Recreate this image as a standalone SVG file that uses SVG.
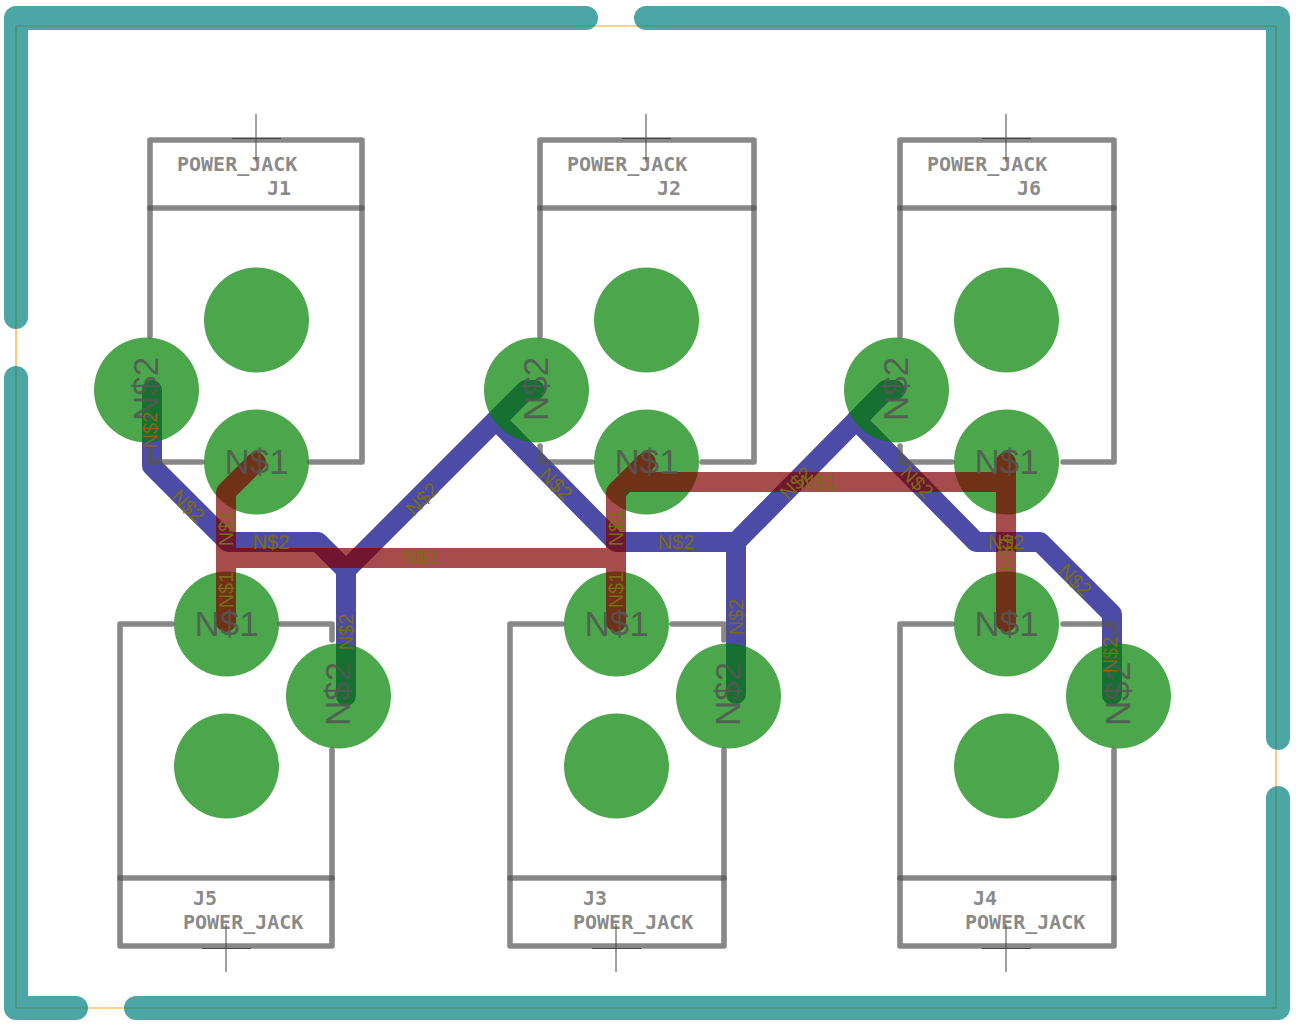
<svg xmlns="http://www.w3.org/2000/svg" width="1296" height="1026" viewBox="0 0 1296 1026">
<style>
.dim{fill:none;stroke:#ffa520;stroke-width:1.2}
.board{fill:none;stroke:#008080;stroke-opacity:.7;stroke-width:24;stroke-linecap:round;stroke-linejoin:round}
.n2{fill:none;stroke:#000080;stroke-opacity:.7;stroke-width:20;stroke-linecap:round;stroke-linejoin:round}
.n1{fill:none;stroke:#800000;stroke-opacity:.7;stroke-width:20;stroke-linecap:round;stroke-linejoin:round}
.pad{fill:#008000;fill-opacity:.7}
.silk{fill:none;stroke:#555;stroke-opacity:.7;stroke-width:5.600;stroke-linecap:round;stroke-linejoin:round}
.cross{fill:none;stroke:#444;stroke-width:1}
.name{font-family:"DejaVu Sans Mono",monospace;font-weight:bold;font-size:20px;fill:#555;fill-opacity:.7}
.padl{font-family:"Liberation Sans",Arial,sans-serif;font-size:35px;fill:#555;fill-opacity:.85;text-anchor:middle}
.wire{font-family:"Liberation Sans",Arial,sans-serif;font-size:20px;fill:#7a6c14;text-anchor:middle}
</style>
<rect width="1296" height="1026" fill="#fff"/>
<g id="board">
<path class="dim" d="M16 26H1276V1008H16Z"/>
<path class="board" d="M16 317V18H586M646 18H1278V738M1278 798V1008H136M76 1008H16V378"/>
</g>
<g id="connectors-N2">
<path class="n2" d="M152 390V466L228 542H318L346 570V696M346 570L526 390H535M496 420L616 542H736V694M736 542L886 390H895M856 420L976 542H1040L1112 614V695"/>
</g>
<g id="J1-pads"><circle class="pad" cx="146.500" cy="390" r="52.500"/><circle class="pad" cx="256.500" cy="320" r="52.500"/><circle class="pad" cx="256.500" cy="462" r="52.500"/></g>
<g id="J2-pads"><circle class="pad" cx="536.500" cy="390" r="52.500"/><circle class="pad" cx="646.500" cy="320" r="52.500"/><circle class="pad" cx="646.500" cy="462" r="52.500"/></g>
<g id="J6-pads"><circle class="pad" cx="896.500" cy="390" r="52.500"/><circle class="pad" cx="1006.500" cy="320" r="52.500"/><circle class="pad" cx="1006.500" cy="462" r="52.500"/></g>
<g id="J5-pads"><circle class="pad" cx="226.500" cy="624" r="52.500"/><circle class="pad" cx="226.500" cy="766" r="52.500"/><circle class="pad" cx="338.500" cy="696" r="52.500"/></g>
<g id="J3-pads"><circle class="pad" cx="616.500" cy="624" r="52.500"/><circle class="pad" cx="616.500" cy="766" r="52.500"/><circle class="pad" cx="728.500" cy="696" r="52.500"/></g>
<g id="J4-pads"><circle class="pad" cx="1006.500" cy="624" r="52.500"/><circle class="pad" cx="1006.500" cy="766" r="52.500"/><circle class="pad" cx="1118.500" cy="696" r="52.500"/></g>
<g id="connectors-N1">
<path class="n1" d="M256 462L226 492V622M226 558H616M646 462L616 492V622M626 482H1006M1006 462V622"/>
</g>
<g id="J1">
<path class="silk" d="M150 336V140H362V462H310M150 446V462H202"/><path class="silk" d="M150 208H362"/>
<path class="cross" d="M256 114V162M232 138.500H281"/>
<text class="name" x="177" y="171">POWER_JACK</text><text class="name" x="267" y="195">J1</text>
<text class="padl" x="256.500" y="474">N$1</text>
<text class="padl" transform="translate(157.500 389) rotate(-90)">N$2</text>
</g>
<g id="J2">
<path class="silk" d="M540 336V140H754V462H702M540 446V462H592"/><path class="silk" d="M540 208H754"/>
<path class="cross" d="M646 114V162M622 138.500H671"/>
<text class="name" x="567" y="171">POWER_JACK</text><text class="name" x="657" y="195">J2</text>
<text class="padl" x="646.500" y="474">N$1</text>
<text class="padl" transform="translate(547.500 389) rotate(-90)">N$2</text>
</g>
<g id="J6">
<path class="silk" d="M900 336V140H1114V462H1063M900 446V462H952"/><path class="silk" d="M900 208H1114"/>
<path class="cross" d="M1006 114V162M982 138.500H1031"/>
<text class="name" x="927" y="171">POWER_JACK</text><text class="name" x="1017" y="195">J6</text>
<text class="padl" x="1006.500" y="474">N$1</text>
<text class="padl" transform="translate(907.500 389) rotate(-90)">N$2</text>
</g>
<g id="J5">
<path class="silk" d="M172 624H120V946H332V750M280 624H332V640"/><path class="silk" d="M120 878H332"/>
<path class="cross" d="M226 924V972M202 948.500H251"/>
<text class="name" x="193" y="905">J5</text><text class="name" x="183" y="929">POWER_JACK</text>
<text class="padl" x="226.500" y="636">N$1</text>
<text class="padl" transform="translate(349.500 694) rotate(-90)">N$2</text>
</g>
<g id="J3">
<path class="silk" d="M562 624H510V946H724V750M672 624H724V640"/><path class="silk" d="M510 878H724"/>
<path class="cross" d="M616 924V972M592 948.500H641"/>
<text class="name" x="583" y="905">J3</text><text class="name" x="573" y="929">POWER_JACK</text>
<text class="padl" x="616.500" y="636">N$1</text>
<text class="padl" transform="translate(739.500 694) rotate(-90)">N$2</text>
</g>
<g id="J4">
<path class="silk" d="M952 624H900V946H1114V750M1063 624H1114V640"/><path class="silk" d="M900 878H1114"/>
<path class="cross" d="M1006 924V972M982 948.500H1031"/>
<text class="name" x="973" y="905">J4</text><text class="name" x="965" y="929">POWER_JACK</text>
<text class="padl" x="1006.500" y="636">N$1</text>
<text class="padl" transform="translate(1129.500 694) rotate(-90)">N$2</text>
</g>
<g id="connector-labels">
<text class="wire" y="7" transform="translate(150 430) rotate(-90)">N$2</text>
<text class="wire" y="7" transform="translate(188 506) rotate(45)">N$2</text>
<text class="wire" y="7" transform="translate(226 528) rotate(-90)">N$1</text>
<text class="wire" y="7" transform="translate(226 590) rotate(-90)">N$1</text>
<text class="wire" x="271" y="549">N$2</text>
<text class="wire" y="7" transform="translate(346 632) rotate(-90)">N$2</text>
<text class="wire" x="421" y="564">N$1</text>
<text class="wire" y="7" transform="translate(422 499) rotate(-45)">N$2</text>
<text class="wire" y="7" transform="translate(556 484) rotate(45)">N$2</text>
<text class="wire" y="7" transform="translate(616 528) rotate(-90)">N$1</text>
<text class="wire" y="7" transform="translate(616 590) rotate(-90)">N$1</text>
<text class="wire" x="676" y="549">N$2</text>
<text class="wire" y="7" transform="translate(736 617) rotate(-90)">N$2</text>
<text class="wire" y="7" transform="translate(796 483) rotate(-45)">N$2</text>
<text class="wire" x="818" y="489">N$1</text>
<text class="wire" y="7" transform="translate(917 482) rotate(45)">N$2</text>
<text class="wire" x="1006" y="549">N$2</text>
<text class="wire" y="7" transform="translate(1006 553) rotate(-90)">N$1</text>
<text class="wire" y="7" transform="translate(1075 580) rotate(45)">N$2</text>
<text class="wire" y="7" transform="translate(1110 655) rotate(-90)">N$2</text>
</g>
</svg>
